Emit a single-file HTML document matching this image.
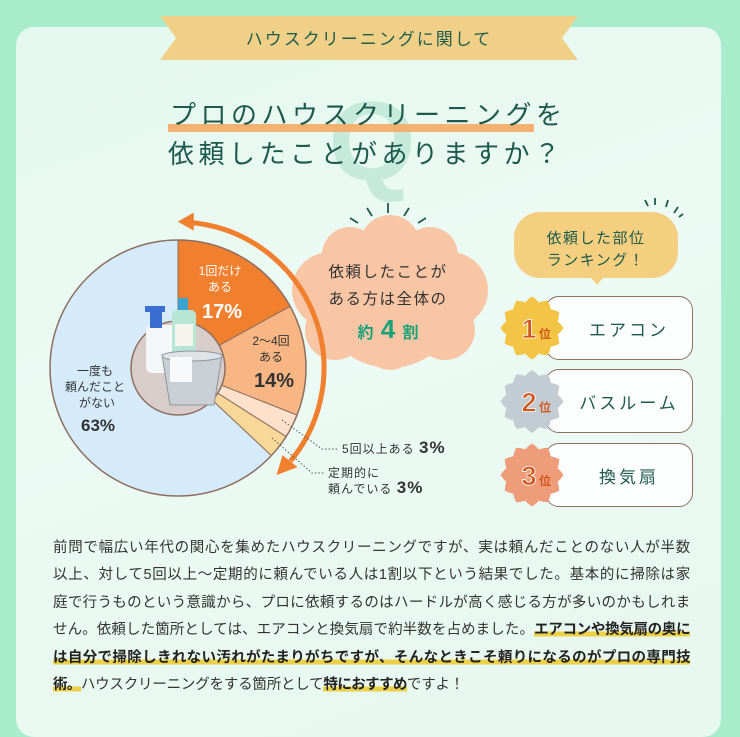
<!DOCTYPE html>
<html lang="ja"><head><meta charset="utf-8">
<style>
*{margin:0;padding:0;box-sizing:border-box}
body{width:740px;height:723px;overflow:hidden;background:#a9eccb;font-family:"Liberation Sans","Noto Sans CJK JP",sans-serif;position:relative}
.card{position:absolute;left:16px;top:27px;width:705px;height:710px;background:linear-gradient(160deg,#e3f8ef 0%,#ecfaf4 40%,#e6f8f0 100%);border-radius:18px}
.abs{position:absolute}
.para{position:absolute;left:53px;top:535px;width:637px;font-size:14.5px;line-height:27.4px;color:#333;white-space:nowrap}
.para .ln{display:block;text-align:justify;text-align-last:justify;letter-spacing:-0.2px}
.para .ln.last{text-align-last:left}
.hl{font-weight:bold;background:linear-gradient(transparent 58%,#ecd047 58%,#ecd047 92%,transparent 92%);color:#222;letter-spacing:-0.6px}
.rcard{position:absolute;left:545px;width:148px;height:64px;background:#fbfefd;border:1.5px solid #8e6f60;border-radius:14px;font-size:17px;color:#1e5a4b;letter-spacing:3px;display:flex;align-items:center;justify-content:center;padding-left:20px}
</style></head><body>
<div class="card"></div>

<svg class="abs" style="left:0;top:0" width="740" height="723">
  <polygon points="160,16 578,16 562,38 578,60 160,60 176,38" fill="#f0cf86"/>
  <text x="369" y="45" text-anchor="middle" font-size="17" fill="#1f5d50" letter-spacing="2">ハウスクリーニングに関して</text>
  <text x="372" y="180" text-anchor="middle" font-size="112" font-weight="bold" fill="#a9dcc8" opacity="0.55">Q</text>
  <rect x="168" y="124" width="366" height="8" fill="#f6a862" opacity="0.9"/>
  <text x="170" y="124" font-size="26" fill="#1e5a4b" letter-spacing="4.5">プロのハウスクリーニングを</text>
  <text x="168" y="163" font-size="26" fill="#1e5a4b" letter-spacing="4.5">依頼したことがありますか？</text>

  <g fill="#f8c5a5">
    <circle cx="390" cy="298" r="70"/><circle cx="330" cy="290" r="38"/><circle cx="450" cy="290" r="38"/>
    <circle cx="350" cy="255" r="28"/><circle cx="430" cy="255" r="28"/><circle cx="390" cy="245" r="30"/>
    <circle cx="335" cy="330" r="30"/><circle cx="445" cy="330" r="30"/><circle cx="390" cy="345" r="25"/>
  </g>
  <text x="388" y="277" text-anchor="middle" font-size="15.5" fill="#333" letter-spacing="1.5">依頼したことが</text>
  <text x="388" y="304" text-anchor="middle" font-size="15.5" fill="#333" letter-spacing="1.5">ある方は全体の</text>
  <text x="388" y="338" text-anchor="middle" fill="#17a37a" font-weight="bold"><tspan font-size="16">約</tspan><tspan font-size="26"> 4 </tspan><tspan font-size="16">割</tspan></text>
  <g stroke="#1e5a4b" stroke-width="1.8">
    <line x1="388" y1="203" x2="388" y2="213"/><line x1="367" y1="208" x2="372" y2="216"/><line x1="409" y1="208" x2="404" y2="216"/>
    <line x1="350" y1="218" x2="358" y2="223"/><line x1="426" y1="218" x2="418" y2="223"/>
    <line x1="645" y1="200" x2="648" y2="206"/><line x1="655" y1="198" x2="655" y2="205"/><line x1="668" y1="200" x2="666" y2="207"/><line x1="678" y1="207" x2="674" y2="213"/><line x1="683" y1="214" x2="679" y2="217"/>
  </g>

  <g id="pie"></g>

  <path d="M540,212 H652 a26,26 0 0 1 26,26 V252 a26,26 0 0 1 -26,26 H603 L597,285 L591,278 H540 a26,26 0 0 1 -26,-26 V238 a26,26 0 0 1 26,-26Z" fill="#f4cf80"/>
  <text x="596" y="243" text-anchor="middle" font-size="15" fill="#1e5a4b" letter-spacing="1.5">依頼した部位</text>
  <text x="596" y="265" text-anchor="middle" font-size="15" fill="#1e5a4b" letter-spacing="1.5">ランキング！</text>
</svg>

<div class="rcard" style="top:296px">エアコン</div>
<div class="rcard" style="top:369px">バスルーム</div>
<div class="rcard" style="top:443px">換気扇</div>
<svg class="abs" style="left:495px;top:290px" width="80" height="230" id="badges"></svg>

<div class="para"><span class="ln">前問で幅広い年代の関心を集めたハウスクリーニングですが、実は頼んだことのない人が半数</span><span class="ln">以上、対して5回以上～定期的に頼んでいる人は1割以下という結果でした。基本的に掃除は家</span><span class="ln">庭で行うものという意識から、プロに依頼するのはハードルが高く感じる方が多いのかもしれま</span><span class="ln">せん。依頼した箇所としては、エアコンと換気扇で約半数を占めました。<span class="hl">エアコンや換気扇の奥に</span></span><span class="ln"><span class="hl">は自分で掃除しきれない汚れがたまりがちですが、そんなときこそ頼りになるのがプロの専門技</span></span><span class="ln last"><span class="hl">術。</span>ハウスクリーニングをする箇所として<span class="hl">特におすすめ</span>ですよ！</span></div>

<script>
const categories=["1回だけある","2～4回ある","5回以上ある","定期的に頼んでいる","一度も頼んだことがない"];
const values=[17,14,3,3,63];
const colors=["#f07f2e","#f8b684","#fde1cb","#f7d898","#d5ebfa"];
const NS="http://www.w3.org/2000/svg";
const cx=178,cy=368,R=128,r0=47;
const pie=document.getElementById('pie');
const total=values.reduce((a,b)=>a+b,0);
function ang(v){return v/total*2*Math.PI-Math.PI/2;}
function pt(a,rad){return [cx+rad*Math.cos(a),cy+rad*Math.sin(a)];}
let acc=0;
values.forEach((v,i)=>{
  const a0=ang(acc),a1=ang(acc+v);acc+=v;
  const p0=pt(a0,R),p1=pt(a1,R);
  const large=(a1-a0)>Math.PI?1:0;
  const p=document.createElementNS(NS,'path');
  p.setAttribute('d',`M${cx},${cy} L${p0[0]},${p0[1]} A${R},${R} 0 ${large} 1 ${p1[0]},${p1[1]} Z`);
  p.setAttribute('fill',colors[i]);p.setAttribute('stroke','#8e6f60');p.setAttribute('stroke-width','1');
  
  
  pie.appendChild(p);
});
const outer=document.createElementNS(NS,'circle');
outer.setAttribute('cx',cx);outer.setAttribute('cy',cy);outer.setAttribute('r',R);outer.setAttribute('fill','none');outer.setAttribute('stroke','#8e6f60');outer.setAttribute('stroke-width','1.5');


pie.appendChild(outer);
const hole=document.createElementNS(NS,'circle');
hole.setAttribute('cx',cx);hole.setAttribute('cy',cy);hole.setAttribute('r',r0);hole.setAttribute('fill','#d9cdcc');hole.setAttribute('stroke','#8e6f60');hole.setAttribute('stroke-width','1.5');


pie.appendChild(hole);
pie.insertAdjacentHTML('beforeend',
 '<g>'+
 '<rect x="146" y="325" width="32" height="48" rx="6" fill="#f4f7f8"/><rect x="150" y="312" width="12" height="16" fill="#3a6fd1"/><path d="M145,312 h20 v-6 h-20z" fill="#3a6fd1"/>'+
 '<rect x="172" y="310" width="24" height="55" rx="5" fill="#b7e6d5"/><rect x="178" y="298" width="10" height="12" fill="#3aa3d1"/><rect x="175" y="324" width="18" height="22" fill="#f5f5ee"/>'+
 '<path d="M162,355 h60 l-8,50 h-44z" fill="#c9cfd4" stroke="#8d959b"/><ellipse cx="192" cy="356" rx="30" ry="5" fill="#dfe3e6" stroke="#8d959b"/>'+
 '<rect x="170" y="357" width="22" height="25" fill="#f7f9fa"/></g>');
// arrow arc: from top clockwise to lower-right
const ar=146;
const s=-0.47*Math.PI, e=0.22*Math.PI;
const q0=pt(s,ar),q1=pt(e,ar);
pie.insertAdjacentHTML('beforeend',
 `<path d="M${q0[0]},${q0[1]} A${ar},${ar} 0 0 1 ${q1[0]},${q1[1]}" fill="none" stroke="#f07f2e" stroke-width="5"/>`+
 `<polygon points="${q0[0]-14},${q0[1]-1} ${q0[0]+2},${q0[1]-10} ${q0[0]+2},${q0[1]+8}" fill="#f07f2e"/>`+
 `<polygon points="${q1[0]-14},${q1[1]+14} ${q1[0]-8},${q1[1]-6} ${q1[0]+7},${q1[1]+6}" fill="#f07f2e"/>`);
pie.insertAdjacentHTML('beforeend',
 '<g font-weight="bold" text-anchor="middle">'+
 '<text x="220" y="275" font-size="12" fill="#fff" font-weight="normal">1回だけ</text><text x="220" y="291" font-size="12" fill="#fff" font-weight="normal">ある</text><text x="222" y="318" font-size="20" fill="#fff">17%</text>'+
 '<text x="271" y="345" font-size="12" fill="#333" font-weight="normal">2～4回</text><text x="271" y="361" font-size="12" fill="#333" font-weight="normal">ある</text><text x="274" y="387" font-size="20" fill="#333">14%</text>'+
 '<text x="95" y="375" font-size="12" fill="#333" font-weight="normal">一度も</text><text x="95" y="391" font-size="12" fill="#333" font-weight="normal">頼んだこと</text><text x="97" y="407" font-size="12" fill="#333" font-weight="normal">がない</text><text x="98" y="431" font-size="17" fill="#333">63%</text>'+
 '</g>'+
 '<path d="M282,420 L322,449 H337" fill="none" stroke="#555" stroke-dasharray="1.5,2"/><text x="342" y="453" font-size="12" fill="#333" letter-spacing="1">5回以上ある <tspan font-size="17" font-weight="bold">3%</tspan></text>'+
 '<path d="M272,438 L312,473 H325" fill="none" stroke="#555" stroke-dasharray="1.5,2"/><text x="328" y="477" font-size="12" fill="#333" letter-spacing="1">定期的に</text><text x="328" y="493" font-size="12" fill="#333" letter-spacing="1">頼んでいる <tspan font-size="17" font-weight="bold">3%</tspan></text>');
const bcolors=["#f3c445","#c4ccd3","#ee9c7a"];const rankNums=["1","2","3"];
const bsvg=document.getElementById('badges');
rankNums.forEach((n,i)=>{
  const bx=37,by=38+i*73.5;let d='';
  for(let k=0;k<=48;k++){const a=k/48*2*Math.PI;const rr=29+2.5*Math.cos(a*12);d+=(k?'L':'M')+(bx+rr*Math.cos(a))+','+(by+rr*Math.sin(a));}
  const g=document.createElementNS(NS,'g');
  
  
  g.innerHTML=`<path d="${d}Z" fill="${bcolors[i]}"/><text x="${bx-3}" y="${by+10}" text-anchor="middle" font-size="27" font-weight="bold" fill="#d0561a" stroke="#fff" stroke-width="0.8">${n}</text><text x="${bx+13}" y="${by+10}" text-anchor="middle" font-size="12" font-weight="bold" fill="#d0561a">位</text>`;
  bsvg.appendChild(g);
});
</script>
</body></html>
